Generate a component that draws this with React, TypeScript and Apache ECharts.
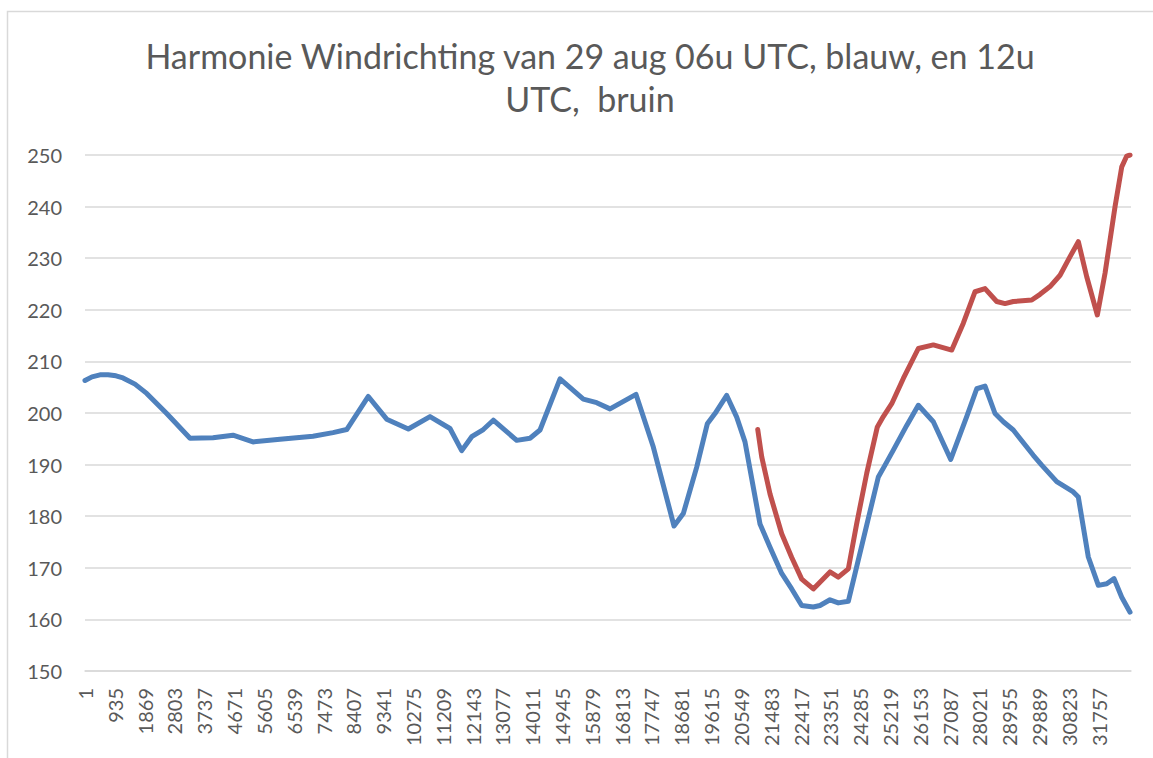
import React, { useEffect, useRef } from "react";
import * as echarts from "echarts";

const titleText = "Harmonie Windrichting van 29 aug 06u UTC, blauw, en 12u\nUTC,  bruin";

const xTickLabels = [
  "1", "935", "1869", "2803", "3737", "4671", "5605", "6539", "7473", "8407",
  "9341", "10275", "11209", "12143", "13077", "14011", "14945", "15879", "16813", "17747",
  "18681", "19615", "20549", "21483", "22417", "23351", "24285", "25219", "26153", "27087",
  "28021", "28955", "29889", "30823", "31757",
];
const xStep = 934;
const xMax = 32770;

// 06u UTC run (blue): row index along the x axis and wind direction (degrees)
const blueRows = [
  0, 219, 470, 721, 971, 1190, 1566, 1933, 2560, 3290, 4010, 4637, 5263, 6109, 7143, 7770,
  8199, 8876, 9452, 10129, 10809, 11435, 11802, 12115, 12479, 12792, 13525, 13942, 14255,
  14882, 15612, 16031, 16448, 17263, 17805, 18453, 18744, 19164, 19496, 19737, 20104, 20417,
  20677, 20937, 21147, 21461, 21827, 22141, 22454, 22818, 23027, 23340, 23600, 23914, 24854,
  25064, 25324, 25744, 26107, 26577, 27122, 27623, 27937, 28197, 28510, 28770, 29083, 29710,
  29973, 30443, 30963, 31120, 31433, 31747, 32010, 32239, 32480, 32740,
];
const blueValues = [
  206.3, 207.0, 207.4, 207.4, 207.2, 206.8, 205.6, 203.8, 199.9, 195.1, 195.2, 195.7, 194.4,
  194.9, 195.5, 196.2, 196.8, 203.2, 198.8, 196.9, 199.3, 197.0, 192.7, 195.4, 196.8, 198.6,
  194.7, 195.1, 196.7, 206.6, 202.7, 202.0, 200.8, 203.6, 193.4, 178.1, 180.5, 189.5, 197.9,
  199.9, 203.4, 199.2, 194.4, 185.6, 178.5, 174.0, 168.9, 165.9, 162.7, 162.4, 162.7, 163.8,
  163.2, 163.5, 187.6, 189.9, 192.8, 197.6, 201.5, 198.3, 191.0, 199.3, 204.7, 205.2, 199.9,
  198.3, 196.7, 191.8, 189.9, 186.7, 184.7, 183.7, 172.1, 166.6, 166.9, 167.9, 164.3, 161.4,
];

// 12u UTC run (brown/red)
const redRows = [
  21076, 21201, 21461, 21827, 22141, 22454, 22818, 23340, 23600, 23914, 24177, 24490, 24823,
  25010, 25274, 25637, 26107, 26577, 27154, 27517, 27884, 28197, 28563, 28824, 29083, 29660,
  29920, 30233, 30547, 30860, 31120, 31383, 31715, 31957, 32270, 32480, 32636, 32740,
];
const redValues = [
  196.8, 191.5, 184.3, 176.6, 172.0, 167.8, 165.9, 169.2, 168.2, 169.8, 178.6, 188.3, 197.3,
  199.3, 201.8, 206.7, 212.5, 213.2, 212.2, 217.4, 223.5, 224.1, 221.6, 221.2, 221.6, 221.9,
  223.0, 224.5, 226.7, 230.3, 233.2, 226.4, 219.0, 227.1, 240.0, 247.7, 249.8, 250.0,
];

const yMin = 150;
const yMax = 250;
const yStep = 10;

const FONT = "Lato, 'Open Sans', sans-serif";

export default function App() {
  const ref = useRef<HTMLDivElement>(null);

  useEffect(() => {
    if (!ref.current) return;
    const chart = echarts.init(ref.current, undefined, { renderer: "svg" });
    const blue = blueRows.map((r, i) => [r, blueValues[i]]);
    const red = redRows.map((r, i) => [r, redValues[i]]);
    chart.setOption({
      animation: false,
      backgroundColor: "#ffffff",
      title: {
        text: titleText,
        left: 585,
        top: 29,
        textAlign: "center",
        textStyle: {
          fontFamily: FONT,
          fontSize: 34,
          fontWeight: "normal",
          color: "#595959",
          lineHeight: 43,
        },
      },
      graphic: [
        {
          type: "rect",
          shape: { x: 7.5, y: 11.5, width: 1300, height: 900 },
          style: { fill: "none", stroke: "#d9d9d9", lineWidth: 1.5 },
          silent: true,
          z: -1,
        },
      ],
      grid: { left: 85, right: 22, top: 155, bottom: 87 },
      xAxis: {
        type: "value",
        min: 0,
        max: xMax,
        interval: xStep,
        axisLine: { show: true, lineStyle: { color: "#d9d9d9", width: 1.5 } },
        axisTick: { show: false },
        splitLine: { show: false },
        axisLabel: {
          rotate: 90,
          margin: 17,
          fontFamily: FONT,
          fontSize: 20,
          color: "#595959",
          showMaxLabel: false,
          formatter: (v: number) => {
            const i = Math.round(v / xStep);
            return Math.abs(v - i * xStep) < 1 && xTickLabels[i] !== undefined ? xTickLabels[i] : "";
          },
        },
      },
      yAxis: {
        type: "value",
        min: yMin,
        max: yMax,
        interval: yStep,
        axisLine: { show: false },
        axisTick: { show: false },
        splitLine: { lineStyle: { color: "#d9d9d9", width: 1.5 } },
        axisLabel: {
          margin: 23,
          fontFamily: FONT,
          fontSize: 20,
          color: "#595959",
        },
      },
      series: [
        {
          name: "06u UTC",
          type: "line",
          data: blue,
          showSymbol: false,
          lineStyle: { color: "#4F81BD", width: 5, join: "round", cap: "round" },
          itemStyle: { color: "#4F81BD" },
          z: 2,
        },
        {
          name: "12u UTC",
          type: "line",
          data: red,
          showSymbol: false,
          lineStyle: { color: "#C0504D", width: 5, join: "round", cap: "round" },
          itemStyle: { color: "#C0504D" },
          z: 3,
        },
      ],
    });
    return () => chart.dispose();
  }, []);

  return (
    <div
      ref={ref}
      style={{ position: "fixed", left: 0, top: 0, width: 1153, height: 758 }}
    />
  );
}
